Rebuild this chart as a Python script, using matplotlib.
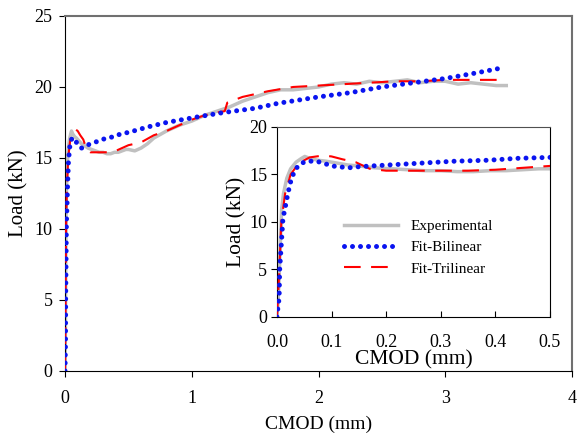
import numpy as np
import matplotlib
matplotlib.use("Agg")
import matplotlib.pyplot as plt

plt.rcParams['font.family'] = ['Liberation Serif', 'DejaVu Serif']

# experimental load-CMOD curve (mm, kN)
exp_x = [0, 0.002, 0.004, 0.006, 0.0085, 0.012, 0.018, 0.025, 0.035, 0.045,
         0.051, 0.06, 0.075, 0.09, 0.11, 0.13, 0.15, 0.18, 0.21, 0.24,
         0.27, 0.3, 0.33, 0.36, 0.39, 0.42, 0.45, 0.48, 0.5, 0.55,
         0.6, 0.65, 0.7, 0.8, 0.9,
         1.0, 1.1, 1.2, 1.3, 1.4, 1.5, 1.6, 1.7, 1.8, 1.9, 2.0, 2.1, 2.2,
         2.3, 2.4, 2.5, 2.6, 2.7, 2.8, 2.9, 3.0, 3.1, 3.2, 3.3, 3.4, 3.48]
exp_y = [0, 1.5, 4.2, 7.5, 11.3, 13.0, 14.6, 15.6, 16.3, 16.7,
         16.9, 16.7, 16.5, 16.4, 16.2, 16.0, 15.9, 15.7, 15.6, 15.5,
         15.4, 15.4, 15.3, 15.3, 15.4, 15.4, 15.5, 15.6, 15.6, 15.5,
         15.7, 16.0, 16.4, 16.9, 17.3,
         17.6, 18.0, 18.3, 18.6, 19.0, 19.3, 19.6, 19.8, 19.8, 19.9, 20.0, 20.2, 20.3,
         20.2, 20.4, 20.3, 20.4, 20.5, 20.3, 20.4, 20.4, 20.2, 20.3, 20.2, 20.1, 20.1]

# bilinear fit
bi_x = [0, 0.002, 0.004, 0.005, 0.007, 0.008, 0.01, 0.011, 0.014, 0.017,
        0.02, 0.027, 0.036, 0.045, 0.057, 0.072, 0.085, 0.1, 0.116, 0.131,
        0.146, 0.173, 0.204, 0.265, 0.326, 0.387, 0.44, 0.5, 0.66, 0.8,
        1.05, 1.25, 1.5, 1.68, 2.0, 2.25, 2.5, 2.75, 3.0, 3.25, 3.45]
bi_y = [0, 1.1, 2.0, 5.0, 6.8, 7.7, 9.5, 10.4, 11.2, 12.1,
        13.0, 14.7, 15.7, 16.2, 16.4, 16.4, 16.2, 15.9, 15.8, 15.7,
        15.8, 15.9, 16.0, 16.2, 16.4, 16.5, 16.7, 16.8, 17.2, 17.5,
        17.9, 18.2, 18.5, 18.85, 19.3, 19.6, 20.0, 20.3, 20.6, 21.0, 21.35]

# trilinear fit
tri_x = [0, 0.004, 0.008, 0.015, 0.025, 0.04, 0.06, 0.085, 0.1, 0.12,
         0.144, 0.17, 0.2, 0.25, 0.3, 0.35, 0.4, 0.45, 0.5, 0.6,
         0.7, 0.8, 0.9, 1.0, 1.1, 1.2, 1.26, 1.28, 1.4, 1.6,
         1.8, 2.0, 2.2, 2.4, 2.6, 2.8, 3.0, 3.2, 3.48]
tri_y = [0, 4.5, 10.0, 13.0, 15.0, 16.2, 16.8, 17.0, 16.9, 16.6,
         16.3, 15.6, 15.4, 15.4, 15.4, 15.4, 15.5, 15.7, 15.9, 16.1,
         16.6, 16.9, 17.3, 17.7, 18.0, 18.2, 18.3, 18.9, 19.3, 19.7,
         20.0, 20.1, 20.2, 20.3, 20.4, 20.4, 20.5, 20.5, 20.5]


def draw(ax):
    ax.plot(exp_x, exp_y, color="#c0c0c0", lw=2.5, label="Experimental", zorder=2)
    ax.plot(bi_x, bi_y, color="#0a14f0", lw=3.6, linestyle=(0, (0.001, 1.6)),
            dash_capstyle="round", label="Fit-Bilinear", zorder=4)
    ax.plot(tri_x, tri_y, color="#ff0000", lw=1.5, linestyle=(0, (8, 5)),
            label="Fit-Trilinear", zorder=3)


fig = plt.figure(figsize=(5.77, 4.34), dpi=100)

ax = fig.add_axes([0.1127, 0.1452, 0.879, 0.818])
draw(ax)
ax.set_xlim(0, 4)
ax.set_ylim(0, 25)
ax.set_xticks([0, 1, 2, 3, 4])
ax.set_yticks([0, 5, 10, 15, 20, 25])
ax.tick_params(direction="out", length=4, labelsize=13, pad=10)
ax.tick_params(axis="y", pad=5)
ax.set_xlabel("CMOD (mm)", fontsize=14, labelpad=6)
ax.set_ylabel("Load (kN)", fontsize=15, labelpad=4)
for s in ["top", "right"]:
    ax.spines[s].set_color("#707070")
    ax.spines[s].set_linewidth(1.5)

ins = fig.add_axes([0.480, 0.2696, 0.473, 0.4378])
draw(ins)
ins.set_xlim(0, 0.5)
ins.set_ylim(0, 20)
ins.set_xticks([0, 0.1, 0.2, 0.3, 0.4, 0.5])
ins.set_xticklabels(["0.0", "0.1", "0.2", "0.3", "0.4", "0.5"])
ins.set_yticks([0, 5, 10, 15, 20])
ins.tick_params(labelsize=13)
ins.tick_params(axis="x", direction="in", length=4, pad=12)
ins.tick_params(axis="y", direction="out", length=4, pad=3)
ins.set_xlabel("CMOD (mm)", fontsize=15.5, labelpad=0)
ins.set_ylabel("Load (kN)", fontsize=15.5, labelpad=2)
ins.spines["top"].set_color("#505050")
ins.legend(loc="center left", bbox_to_anchor=(0.225, 0.365), frameon=False,
           fontsize=11, handlelength=3.5, labelspacing=0.5, borderaxespad=0)

fig.savefig("out.png", dpi=100)
